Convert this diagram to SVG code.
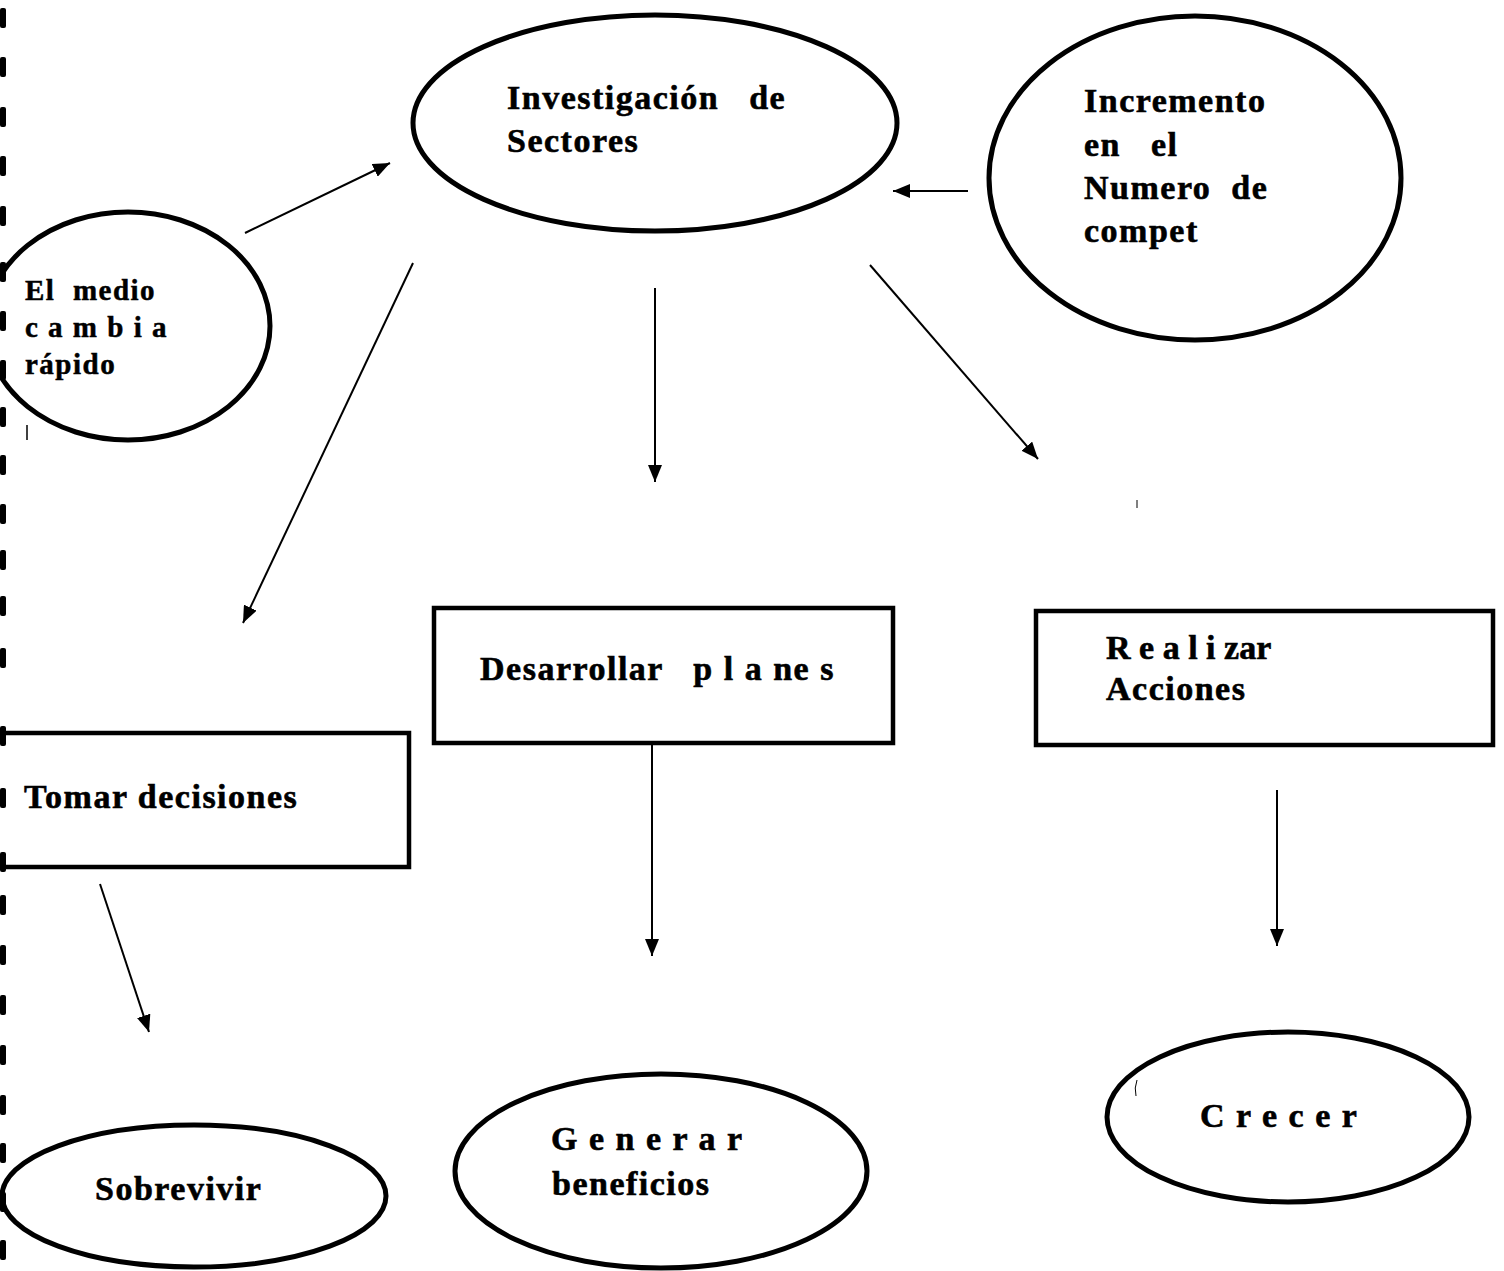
<svg xmlns="http://www.w3.org/2000/svg" width="1504" height="1271" viewBox="0 0 1504 1271">
<style>
.shape{fill:none;stroke:#000;stroke-width:5}
.box{fill:none;stroke:#000;stroke-width:4.5}
.t{font-family:"Liberation Serif","Times New Roman",serif;font-weight:bold;font-size:34px;fill:#000;stroke:#000;stroke-width:0.6;letter-spacing:1.5px}
.ts{font-family:"Liberation Serif","Times New Roman",serif;font-weight:bold;font-size:29px;fill:#000;stroke:#000;stroke-width:0.5;letter-spacing:1.5px}
.c{stroke:#000;stroke-width:2;fill:none;marker-end:url(#ah)}
.bind{fill:#000}
</style>
<defs>
<marker id="ah" markerUnits="userSpaceOnUse" markerWidth="18" markerHeight="14" refX="17" refY="7" orient="auto">
<path d="M0,0 L17,7 L0,14 z" fill="#000"/>
</marker>
</defs>
<rect width="1504" height="1271" fill="#fff"/>
<g id="binding">
<rect class="bind" x="0" y="8" width="6" height="20" rx="2"/>
<rect class="bind" x="0" y="57" width="6" height="20" rx="2"/>
<rect class="bind" x="0" y="107" width="6" height="20" rx="2"/>
<rect class="bind" x="0" y="156" width="6" height="20" rx="2"/>
<rect class="bind" x="0" y="206" width="6" height="20" rx="2"/>
<rect class="bind" x="0" y="262" width="6" height="20" rx="2"/>
<rect class="bind" x="0" y="311" width="6" height="20" rx="2"/>
<rect class="bind" x="0" y="360" width="6" height="20" rx="2"/>
<rect class="bind" x="0" y="407" width="6" height="20" rx="2"/>
<rect class="bind" x="0" y="455" width="6" height="20" rx="2"/>
<rect class="bind" x="0" y="504" width="6" height="20" rx="2"/>
<rect class="bind" x="0" y="550" width="6" height="20" rx="2"/>
<rect class="bind" x="0" y="596" width="6" height="20" rx="2"/>
<rect class="bind" x="0" y="648" width="6" height="20" rx="2"/>
<rect class="bind" x="0" y="726" width="6" height="20" rx="2"/>
<rect class="bind" x="0" y="788" width="6" height="20" rx="2"/>
<rect class="bind" x="0" y="852" width="6" height="20" rx="2"/>
<rect class="bind" x="0" y="895" width="6" height="20" rx="2"/>
<rect class="bind" x="0" y="945" width="6" height="20" rx="2"/>
<rect class="bind" x="0" y="995" width="6" height="20" rx="2"/>
<rect class="bind" x="0" y="1045" width="6" height="20" rx="2"/>
<rect class="bind" x="0" y="1095" width="6" height="20" rx="2"/>
<rect class="bind" x="0" y="1143" width="6" height="20" rx="2"/>
<rect class="bind" x="0" y="1192" width="6" height="20" rx="2"/>
<rect class="bind" x="0" y="1240" width="6" height="20" rx="2"/>
<line x1="27" y1="425" x2="27" y2="440" stroke="#000" stroke-width="1.5"/>
<line x1="1137" y1="500" x2="1137" y2="508" stroke="#000" stroke-width="1"/>
<path d="M1137,1080 Q1134,1088 1136,1096" stroke="#000" stroke-width="1" fill="none"/>
</g>
<g id="connectors">
<line class="c" x1="245" y1="233" x2="390" y2="163"/>
<line class="c" x1="968" y1="191" x2="893" y2="191"/>
<line class="c" x1="413" y1="263" x2="243" y2="623"/>
<line class="c" x1="655" y1="288" x2="655" y2="482"/>
<line class="c" x1="870" y1="265" x2="1038" y2="459"/>
<line class="c" x1="652" y1="744" x2="652" y2="956"/>
<line class="c" x1="1277" y1="790" x2="1277" y2="946"/>
<line class="c" x1="100" y1="884" x2="149" y2="1032"/>
</g>
<g id="investigacion">
<ellipse class="shape" cx="655" cy="123" rx="242" ry="108"/>
<text class="t" x="507" y="109" xml:space="preserve">Investigación   de</text>
<text class="t" x="507" y="152">Sectores</text>
</g>
<g id="incremento">
<ellipse class="shape" cx="1195" cy="178" rx="206" ry="162"/>
<text class="t" x="1084" y="112">Incremento</text>
<text class="t" x="1084" y="156" xml:space="preserve">en   el</text>
<text class="t" x="1084" y="199" xml:space="preserve">Numero  de</text>
<text class="t" x="1084" y="242">compet</text>
</g>
<g id="medio">
<ellipse class="shape" cx="128" cy="326" rx="142" ry="114"/>
<text class="ts" x="25" y="300" xml:space="preserve">El  medio</text>
<text class="ts" x="25" y="337">c a m b i a</text>
<text class="ts" x="25" y="374">rápido</text>
</g>
<g id="tomar">
<rect class="box" x="-5" y="733" width="414" height="134"/>
<text class="t" x="24" y="808">Tomar decisiones</text>
</g>
<g id="desarrollar">
<rect class="box" x="434" y="608" width="459" height="135"/>
<text class="t" x="480" y="680" xml:space="preserve">Desarrollar   p l a ne s</text>
</g>
<g id="realizar">
<rect class="box" x="1036" y="611" width="457" height="134"/>
<text class="t" x="1106" y="659" style="letter-spacing:0">R e a l i zar</text>
<text class="t" x="1106" y="700">Acciones</text>
</g>
<g id="sobrevivir">
<ellipse class="shape" cx="194" cy="1196" rx="192" ry="71"/>
<text class="t" x="95" y="1200">Sobrevivir</text>
</g>
<g id="generar">
<ellipse class="shape" cx="661" cy="1171" rx="206" ry="97"/>
<text class="t" x="551" y="1150">G e n e r a r</text>
<text class="t" x="552" y="1195">beneficios</text>
</g>
<g id="crecer">
<ellipse class="shape" cx="1288" cy="1117" rx="181" ry="85"/>
<text class="t" x="1200" y="1127">C r e c e r</text>
</g>
</svg>
